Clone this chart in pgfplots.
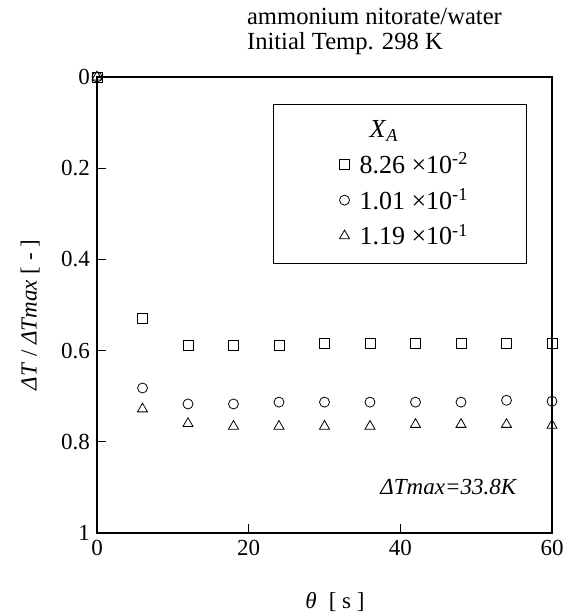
\documentclass[border=0pt]{standalone}
\usepackage{fontspec}
\setmainfont{Liberation Serif}
\usepackage{pgfplots}
\pgfplotsset{compat=1.18}

\begin{document}
\begin{tikzpicture}
\begin{axis}[
  at={(0,0)}, anchor=south west,
  scale only axis, width=227.5pt, height=228pt,
  xmin=0, xmax=60, ymin=0, ymax=1, y dir=reverse,
  xtick={0,20,40,60},
  ytick={0,0.2,0.4,0.6,0.8,1},
  yticklabels={0,0.2,0.4,0.6,0.8,1},
  tick pos=left, tick align=inside, major tick length=4.5pt,
  tick style={black, line width=0.6pt},
  axis line style={line width=0.6pt},
  tick label style={font=\fontsize{11.5}{13}\selectfont},
  /pgf/number format/assume math mode=true,
  xlabel={\textit{θ}\; [ s ]},
  ylabel={\textit{ΔT} / \textit{ΔTmax} [ - ]},
  label style={font=\fontsize{11.5}{13}\selectfont},
  xlabel style={at={(axis description cs:0.523,-0.151)}, anchor=center},
  ylabel style={at={(axis description cs:-0.147,0.478)}, anchor=center},
  clip=false,
  legend cell align=left,
  legend style={at={(axis description cs:0.945,0.941)}, anchor=north east,
    draw=black, line width=0.6pt, inner xsep=27pt, inner ysep=6pt,
    row sep=2pt, font=\fontsize{13}{14}\selectfont},
]
\addlegendimage{empty legend}
\addlegendentry{\hspace{8pt}\textit{X}\textsubscript{\textit{A}}}
\addplot[only marks, mark=square, mark size=2.5pt, mark options={draw=black, line width=0.4pt}]
  coordinates {(0,0)(6,0.530)(12,0.588)(18,0.588)(24,0.588)(30,0.584)(36,0.584)(42,0.584)(48,0.584)(54,0.584)(60,0.584)};
\addlegendentry{\hspace{3pt}8.26 ×10\textsuperscript{-2}}
\addplot[only marks, mark=o, mark size=2.5pt, mark options={draw=black, line width=0.4pt}]
  coordinates {(0,0)(6,0.682)(12,0.717)(18,0.717)(24,0.713)(30,0.713)(36,0.713)(42,0.713)(48,0.713)(54,0.709)(60,0.711)};
\addlegendentry{\hspace{3pt}1.01 ×10\textsuperscript{-1}}
\addplot[only marks, mark=triangle, mark size=2.9pt, mark options={draw=black, line width=0.4pt}]
  coordinates {(0,0)(6,0.728)(12,0.760)(18,0.766)(24,0.766)(30,0.766)(36,0.766)(42,0.762)(48,0.762)(54,0.762)(60,0.764)};
\addlegendentry{\hspace{3pt}1.19 ×10\textsuperscript{-1}}
\node[anchor=east, font=\fontsize{11.5}{13}\selectfont\itshape] at (axis cs:56.2,0.9) {ΔTmax=33.8K};
\end{axis}
\node[anchor=base west, font=\fontsize{12.3}{13}\selectfont] at (71.5pt,254pt) {ammonium nitorate/water};
\node[anchor=base west, font=\fontsize{12.3}{13}\selectfont] at (71.5pt,241.5pt) {Initial Temp. 298 K};
\pgfresetboundingbox
\path[use as bounding box] (-48.5pt,-41.5pt) rectangle (237pt,266.5pt);
\end{tikzpicture}
\end{document}
